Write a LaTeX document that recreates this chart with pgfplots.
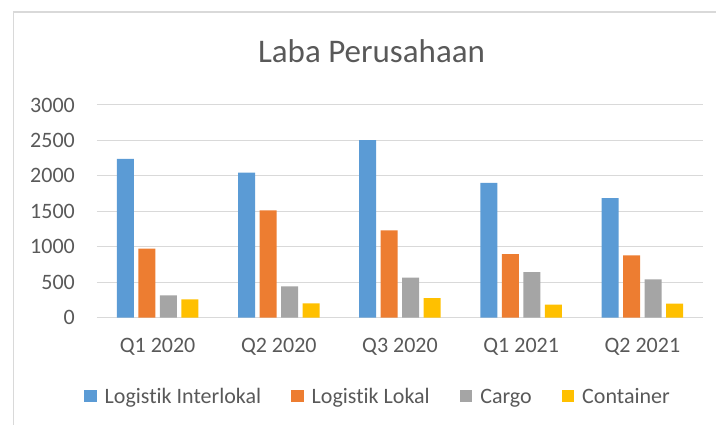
\documentclass[border=0pt]{standalone}
\usepackage{pgfplots}
\pgfplotsset{compat=1.18}
\usepackage{fontspec}
\setmainfont{Carlito}[Ligatures=NoCommon]
\definecolor{cblue}{HTML}{5B9BD5}
\definecolor{corange}{HTML}{ED7D31}
\definecolor{cgray}{HTML}{A5A5A5}
\definecolor{cyellow}{HTML}{FFC000}
\definecolor{gridc}{HTML}{D9D9D9}
\definecolor{txt}{HTML}{595959}
\begin{document}
\begin{tikzpicture}[x=1pt,y=1pt]
\useasboundingbox (0,0) rectangle (716,425);
\draw[draw=gridc, line width=1.5pt] (13.5,0) -- (13.5,412.8) -- (716,412.8);
\node[anchor=base, text=txt, font=\fontsize{33}{38}\selectfont, inner sep=0pt] at (371.5,362.3) {Laba Perusahaan};
\begin{axis}[
  at={(97pt,107.3pt)}, anchor=south west,
  scale only axis, width=606pt, height=212.7pt,
  ymin=0, ymax=3000, xmin=-0.5, xmax=4.5,
  ybar=4.5pt, bar width=17pt,
  ytick={0,500,...,3000},
  xtick={0,1,2,3,4},
  xticklabels={Q1 2020,Q2 2020,Q3 2020,Q1 2021,Q2 2021},
  major tick length=0pt,
  ymajorgrids, grid style={draw=gridc, line width=1pt},
  axis x line*=bottom, axis y line*=left,
  x axis line style={draw=gridc, line width=1pt, -},
  y axis line style={draw=none},
  /pgf/number format/assume math mode=true,
  /pgf/number format/1000 sep={},
  tick label style={text=txt, font=\fontsize{22}{26}\selectfont, inner sep=0pt},
  yticklabel style={anchor=east, xshift=-22pt},
  xticklabel style={anchor=north, yshift=-20pt},
  legend columns=4,
  legend style={at={(0.4637,-0.373)}, anchor=center, draw=none, fill=none, inner sep=0pt,
    font=\fontsize{22}{26}\selectfont, text=txt,
    /tikz/every even column/.append style={column sep=28pt},
    /tikz/every odd column/.append style={column sep=6pt}},
  legend cell align=left,
  sqleg/.style={legend image code/.code={\fill[##1,draw=none] (0pt,-5.25pt) rectangle (12.5pt,7.25pt);}},
]
\addplot[fill=cblue, draw=none, sqleg] coordinates {(0,2240) (1,2045) (2,2505) (3,1903) (4,1687)};
\addplot[fill=corange, draw=none, sqleg] coordinates {(0,975) (1,1512) (2,1231) (3,898) (4,879)};
\addplot[fill=cgray, draw=none, sqleg] coordinates {(0,315) (1,442) (2,564) (3,644) (4,540)};
\addplot[fill=cyellow, draw=none, sqleg] coordinates {(0,257) (1,202) (2,277) (3,183) (4,197)};
\legend{Logistik Interlokal, Logistik Lokal, Cargo, Container}
\end{axis}
\end{tikzpicture}
\end{document}
